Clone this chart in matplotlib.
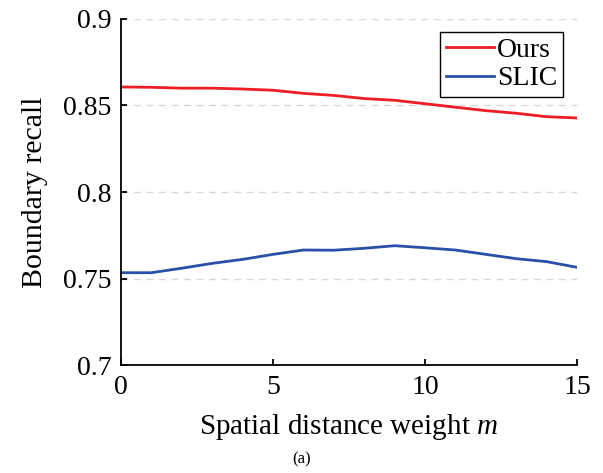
import matplotlib.pyplot as plt

plt.rcParams['font.family'] = ['Liberation Serif', 'DejaVu Serif']
plt.rcParams['mathtext.fontset'] = 'custom'
plt.rcParams['mathtext.it'] = 'Liberation Serif:italic'
plt.rcParams['mathtext.rm'] = 'Liberation Serif'

m = list(range(16))
ours = [0.8607, 0.8605, 0.8600, 0.8600, 0.8595, 0.8588, 0.8570, 0.8558,
        0.8540, 0.8530, 0.8510, 0.8490, 0.8470, 0.8455, 0.8435, 0.8428]
slic = [0.7534, 0.7534, 0.7560, 0.7588, 0.7611, 0.7640, 0.7665, 0.7664,
        0.7675, 0.7690, 0.7678, 0.7665, 0.7640, 0.7615, 0.7598, 0.7565]

fig = plt.figure(figsize=(6.03, 4.73), dpi=100)
ax = fig.add_axes([0.2007, 0.228, 0.7563, 0.732])

ax.plot(m, ours, color='#ee1c25', lw=2, label='Ours')
ax.plot(m, slic, color='#2a4fa8', lw=2, label='SLIC')

ax.set_xlim(0, 15)
ax.set_ylim(0.7, 0.9)
ax.set_xticks([0, 5, 10, 15])
ax.set_yticks([0.7, 0.75, 0.8, 0.85, 0.9])
ax.set_yticklabels(['0.7', '0.75', '0.8', '0.85', '0.9'])
ax.yaxis.grid(True, linestyle=(0, (5, 4)), color='#d9d9d9', lw=1)
ax.set_axisbelow(True)
ax.spines['top'].set_visible(False)
ax.spines['right'].set_visible(False)
for s in ['left', 'bottom']:
    ax.spines[s].set_linewidth(1.3)
ax.tick_params(direction='in', labelsize=20, width=1.3, length=4)
ax.tick_params(axis='y', pad=7)
ax.tick_params(axis='x', pad=7)

ax.set_xlabel('Spatial distance weight $m$', fontsize=21, labelpad=9)
ax.set_ylabel('Boundary recall', fontsize=21.5, labelpad=11)

leg = ax.legend(loc='upper right', bbox_to_anchor=(0.969, 0.962), fontsize=20,
                fancybox=False, framealpha=1, edgecolor='black',
                handlelength=1.75, handletextpad=0.1, borderpad=0.2,
                labelspacing=0.1, borderaxespad=0)
leg.get_frame().set_linewidth(1.0)

fig.text(0.5, 0.02, '(a)', ha='center', fontsize=12)

fig.savefig('out.png', dpi=100)
